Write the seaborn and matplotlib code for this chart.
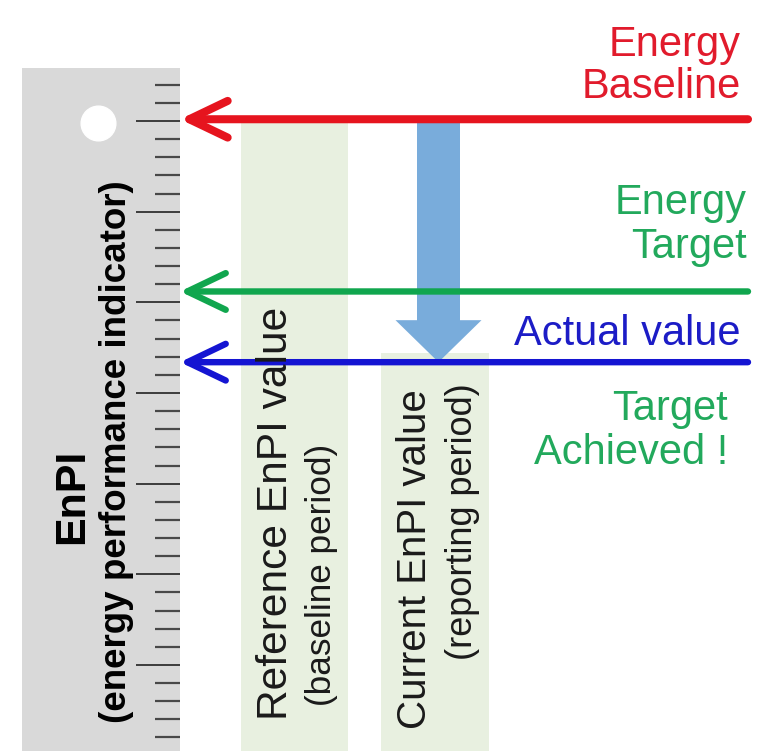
import numpy as np
import pandas as pd
import matplotlib
matplotlib.use("Agg")
import matplotlib.pyplot as plt
import seaborn as sns
from matplotlib.ticker import MultipleLocator

# ---------------- data (EnPI scale units) ----------------
level_names = ["Energy Baseline", "Energy Target", "Actual value"]
level_values = [35.1, 25.6, 21.7]
bar_names = ["Reference EnPI value", "Current EnPI value"]
bar_subtitles = ["(baseline period)", "(reporting period)"]
bar_values = [35.1, 22.2]
ruler_major_step = 5
ruler_minor_step = 1

# ---------------- layout / style ----------------
sns.set_theme(style="white")
plt.rcParams['font.family'] = ['Liberation Sans', 'DejaVu Sans']

W, H = 757, 751
Y0_PX = 755.6
PX_PER_UNIT = 18.13


def v_of(py):
    return (Y0_PX - py) / PX_PER_UNIT


def fx(px):
    return px / W


def fy(py):
    return 1 - py / H


RED = '#e6141e'
GREEN = '#10a64e'
BLUE = '#1414d2'
RED_T = '#e11b2c'
GREEN_T = '#22a95c'
BLUE_T = '#1c1cc6'
ARROW_BLUE = '#79acdb'
BAR_GREEN = '#e8f0e0'
RULER = '#d9d9d9'
TXT = '#1a1a1a'

fig = plt.figure(figsize=(W / 100, H / 100), dpi=100)

# ruler
ax_r = fig.add_axes([fx(22), 0, (180 - 22) / W, (H - 68) / H])
ax_r.set_facecolor(RULER)
ax_r.set_ylim(v_of(H), v_of(68))
ax_r.set_xlim(0, 1)
ax_r.set_xticks([])
ax_r.yaxis.set_major_locator(MultipleLocator(ruler_major_step))
ax_r.yaxis.set_minor_locator(MultipleLocator(ruler_minor_step))
ax_r.yaxis.tick_right()
ax_r.tick_params(axis='y', which='major', direction='in', length=32, width=1.4,
                 color='#3c3c3c', labelright=False, labelleft=False, right=True, left=False)
ax_r.tick_params(axis='y', which='minor', direction='in', length=18, width=1.6,
                 color='#484848', right=True, left=False)
for s in ax_r.spines.values():
    s.set_visible(False)

# main drawing axes
ax = fig.add_axes([0, 0, 1, 1])
ax.patch.set_alpha(0)

BAR_CENTERS = [294.5, 435.0]
bar_df = pd.DataFrame({'pos': BAR_CENTERS, 'value': bar_values, 'name': bar_names})
sns.barplot(data=bar_df, x='pos', y='value', native_scale=True, width=0.762,
            color=BAR_GREEN, saturation=1, errorbar=None, linewidth=0, ax=ax, zorder=1)

ax.set_xlim(0, W)
ax.set_ylim(v_of(H), v_of(0))
ax.axis('off')

# big blue arrow (baseline -> actual)
ax.arrow(438.5, level_values[0], 0, level_values[2] - level_values[0],
         width=43, head_width=86, head_length=v_of(318) - v_of(360),
         length_includes_head=True, fc=ARROW_BLUE, ec='none', zorder=2)

# level arrows
line_colors = [RED, GREEN, BLUE]
line_widths = [5.8, 4.6, 4.6]
for lv, c, lw in zip(level_values, line_colors, line_widths):
    ax.annotate('', xy=(180, lv), xytext=(748, lv), xycoords='data',
                arrowprops=dict(arrowstyle='->,head_length=2.3,head_width=1.1',
                                lw=lw, color=c, shrinkA=0, shrinkB=0),
                zorder=4)

# white hole on ruler
ax.plot([98], [v_of(123)], 'o', ms=25, color='white', mec='white', zorder=3)

# ruler labels
fig.text(fx(72), fy(496), 'EnPI', rotation=90, ha='center', va='center',
         fontsize=31, fontweight='bold', color='black')
fig.text(fx(117), fy(452), '(energy performance indicator)', rotation=90,
         ha='center', va='center', fontsize=26.5, fontweight='bold', color='black')

# bar labels
fig.text(fx(276), fy(513), bar_names[0], rotation=90, ha='center', va='center',
         fontsize=30.6, color=TXT)
fig.text(fx(322), fy(575), bar_subtitles[0], rotation=90, ha='center', va='center',
         fontsize=25.3, color=TXT)
fig.text(fx(415), fy(389), bar_names[1], rotation=90, ha='center', va='top',
         fontsize=29, color=TXT)
fig.text(fx(462), fy(522), bar_subtitles[1], rotation=90, ha='center', va='center',
         fontsize=26, color=TXT)

# right-hand annotations
fig.text(fx(741), fy(25), 'Energy\nBaseline', ha='right', va='top', color=RED_T,
         fontsize=30, linespacing=1.08)
fig.text(fx(747), fy(183), 'Energy\nTarget', ha='right', va='top', color=GREEN_T,
         fontsize=30, linespacing=1.12)
fig.text(fx(741), fy(314), 'Actual value', ha='right', va='top', color=BLUE_T,
         fontsize=30)
fig.text(fx(728), fy(389), 'Target\nAchieved !', ha='right', va='top', color=GREEN_T,
         fontsize=30, linespacing=1.12, multialignment='right')

fig.savefig('out.png', dpi=100)
